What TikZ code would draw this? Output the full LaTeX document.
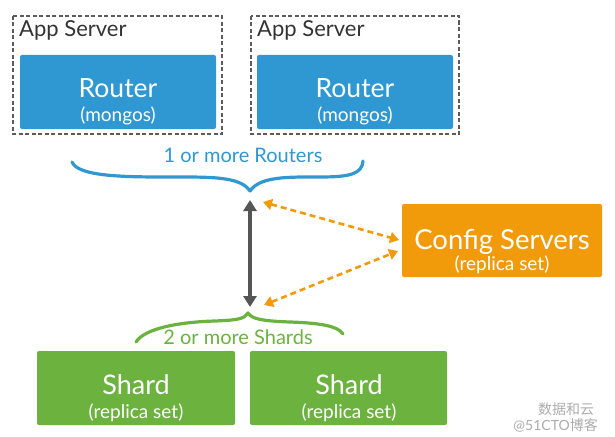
\documentclass[tikz,border=0pt]{standalone}
\usepackage{fontspec}
\setmainfont{Lato}
\newfontfamily\cjkfont{Noto Sans CJK SC}
\usetikzlibrary{arrows.meta}
\definecolor{routerblue}{HTML}{2F98D3}
\definecolor{cfgorange}{HTML}{F19B0B}
\definecolor{shardgreen}{HTML}{6BB33E}
\definecolor{darkarrow}{HTML}{555555}
\definecolor{apptext}{HTML}{333333}
\begin{document}
\begin{tikzpicture}[x=1pt,y=-1pt,
  appbox/.style={draw=apptext!80, line width=1.3pt, dash pattern=on 4pt off 2.5pt},
  apptxt/.style={anchor=base west, text=apptext, font=\fontsize{22}{24}\selectfont, inner sep=0pt},
  bigtxt/.style={anchor=base, text=white, inner sep=0pt, font=\fontsize{26.5}{28}\selectfont},
  smalltxt/.style={anchor=base, text=white, inner sep=0pt, font=\fontsize{19}{21}\selectfont},
  lbltxt/.style={anchor=base, inner sep=0pt, font=\fontsize{20}{22}\selectfont},
  brace/.style={line width=3.2pt, line cap=round, line join=round},
  wmtxt/.style={text=gray!65, inner sep=0pt},
  dblarrow/.style={line width=3.5pt, darkarrow, {Triangle[width=13pt,length=11pt]}-{Triangle[width=13pt,length=11pt]}},
  cfgarrow/.style={line width=2.6pt, cfgorange, dash pattern=on 6pt off 4pt, {Triangle[width=11pt,length=9pt]}-{Triangle[width=11pt,length=9pt]}}
]
\useasboundingbox (0,0) rectangle (615,436);
% App server boxes
\draw[appbox] (13,16) rectangle (222,134);
\draw[appbox] (251,16) rectangle (459,134);
\node[apptxt] (app1) at (19,37) {App Server};
\node[apptxt] (app2) at (257,37) {App Server};
% Routers
\fill[routerblue, rounded corners=2pt] (20,55) rectangle (216,129);
\fill[routerblue, rounded corners=2pt] (257,55) rectangle (453,129);
\node[bigtxt] (r1) at (118,97) {Router};
\node[smalltxt] (r1s) at (118,121) {(mongos)};
\node[bigtxt] (r2) at (355,97) {Router};
\node[smalltxt] (r2s) at (355,121) {(mongos)};
% Blue brace
\draw[brace, routerblue] (72,162) .. controls (78,176) and (120,177) .. (165,177)
  .. controls (210,177) and (240,176) .. (250,191)
  .. controls (260,176) and (290,177) .. (320,177)
  .. controls (350,177) and (362,174) .. (363,161);
\node[lbltxt, text=routerblue] (lbl1) at (243,162) {1 or more Routers};
% Config servers
\fill[cfgorange, rounded corners=2pt] (402,204) rectangle (602,277);
\node[bigtxt, font=\fontsize{27.5}{29}\selectfont] (cfg) at (502,249) {Config Servers};
\node[smalltxt] (cfgs) at (502,270) {(replica set)};
% coordinates for arrows
\coordinate (top) at (250,200);
\coordinate (bot) at (250,307);
\coordinate (ctop) at (263,202);
\coordinate (cbot) at (264,305);
\coordinate (cfgA) at (399,240);
\coordinate (cfgB) at (398,251);
\draw[dblarrow] (top) -- (bot);
\draw[cfgarrow] (ctop) -- (cfgA);
\draw[cfgarrow] (cbot) -- (cfgB);
% Green brace
\draw[brace, shardgreen] (136,342) .. controls (145,328) and (180,322) .. (215,321)
  .. controls (238,320) and (244,319) .. (248,313)
  .. controls (252,319) and (262,321) .. (290,322)
  .. controls (320,323) and (338,326) .. (343,334);
\node[lbltxt, text=shardgreen] (lbl2) at (238,344) {2 or more Shards};
% Shards
\fill[shardgreen, rounded corners=2pt] (37,351) rectangle (235,425);
\fill[shardgreen, rounded corners=2pt] (250,351) rectangle (447,425);
\node[bigtxt, font=\fontsize{27}{29}\selectfont] (s1) at (136,394) {Shard};
\node[smalltxt] (s1s) at (136,418) {(replica set)};
\node[bigtxt, font=\fontsize{27}{29}\selectfont] (s2) at (349,394) {Shard};
\node[smalltxt] (s2s) at (349,418) {(replica set)};
% watermark
\node[wmtxt, font=\cjkfont\fontsize{14}{15}\selectfont] (wm1) at (566,409) {数据和云};
\node[wmtxt, font=\fontsize{14}{15}\selectfont, anchor=east] (wm2) at (598,425) {@51CTO{\cjkfont 博客}};
\end{tikzpicture}
\end{document}
